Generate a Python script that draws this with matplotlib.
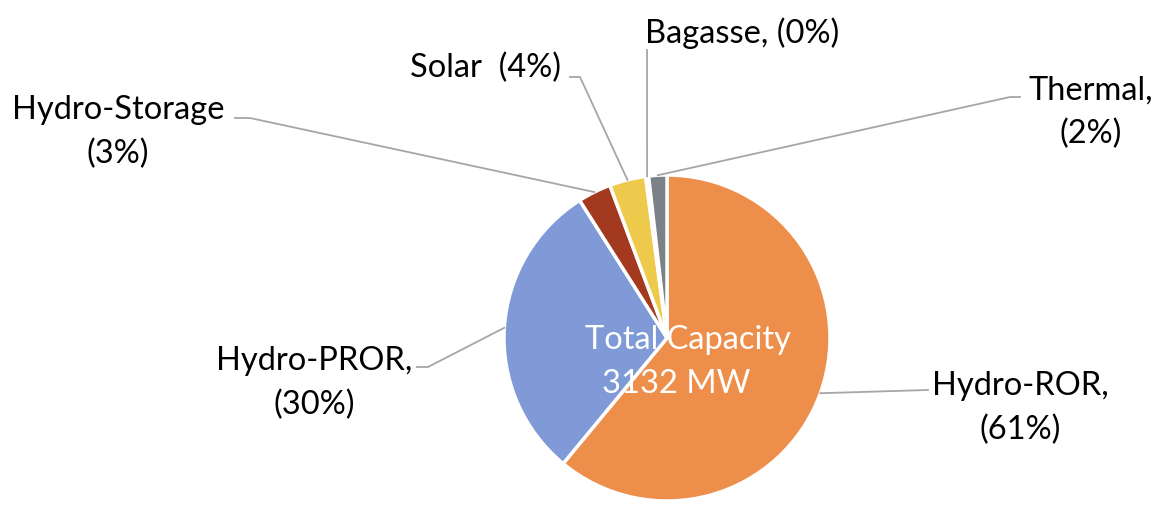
import numpy as np
import matplotlib.pyplot as plt

# capacity share, %
sources = ['Hydro-ROR', 'Hydro-PROR', 'Hydro-Storage', 'Solar', 'Bagasse', 'Thermal']
shares = [61.0, 30.0, 3.3, 3.6, 0.3, 1.8]
labels = ['Hydro-ROR,\n(61%)', 'Hydro-PROR,\n(30%)', 'Hydro-Storage\n(3%)',
          'Solar  (4%)', 'Bagasse, (0%)', 'Thermal,\n(2%)']
colors = ['#EE8E4B', '#7F9AD6', '#A3391F', '#EDCA4C', '#D9D9D9', '#7C8087']
total_mw = 3132

plt.rcParams['font.family'] = ['Lato', 'DejaVu Sans']

W, H = 1162, 505
fig = plt.figure(figsize=(W / 100, H / 100), dpi=100)
ax = fig.add_axes([0, 0, 1, 1])

cx, cy, r = 667, H - 338, 163
wedges, _ = ax.pie(shares, colors=colors, startangle=90, counterclock=False,
                   center=(cx, cy), radius=r, frame=True,
                   wedgeprops=dict(edgecolor='white', linewidth=2.5))
ax.set_xlim(0, W)
ax.set_ylim(0, H)
ax.set_aspect('equal')
ax.axis('off')

# label anchor (px from top-left) and leader elbow points
text_pos = [(1020, 408), (314, 383), (118, 132), (486, 68), (742, 33), (1091, 112)]
elbows = [[(928, 390)],
          [(428, 367), (417, 367)],
          [(250, 118), (235, 118)],
          [(580, 77), (570, 77)],
          [(647, 50)],
          [(1010, 97), (1020, 97)]]

for w, lab, tp, el in zip(wedges, labels, text_pos, elbows):
    mid = np.deg2rad((w.theta1 + w.theta2) / 2)
    sx, sy = cx + r * np.cos(mid), cy + r * np.sin(mid)
    xs = [sx] + [p[0] for p in el]
    ys = [sy] + [H - p[1] for p in el]
    ax.plot(xs, ys, color='#A6A6A6', lw=1.3, zorder=1)
    ax.text(tp[0], H - tp[1], lab, ha='center', va='center', fontsize=23.5,
            color='black', linespacing=1.55)

ax.text(688, H - 340, 'Total Capacity', ha='center', va='center',
        fontsize=23.5, color='white')
ax.text(676, H - 384, f'{total_mw} MW', ha='center', va='center',
        fontsize=23.5, color='white')

fig.savefig('out.png', dpi=100)
